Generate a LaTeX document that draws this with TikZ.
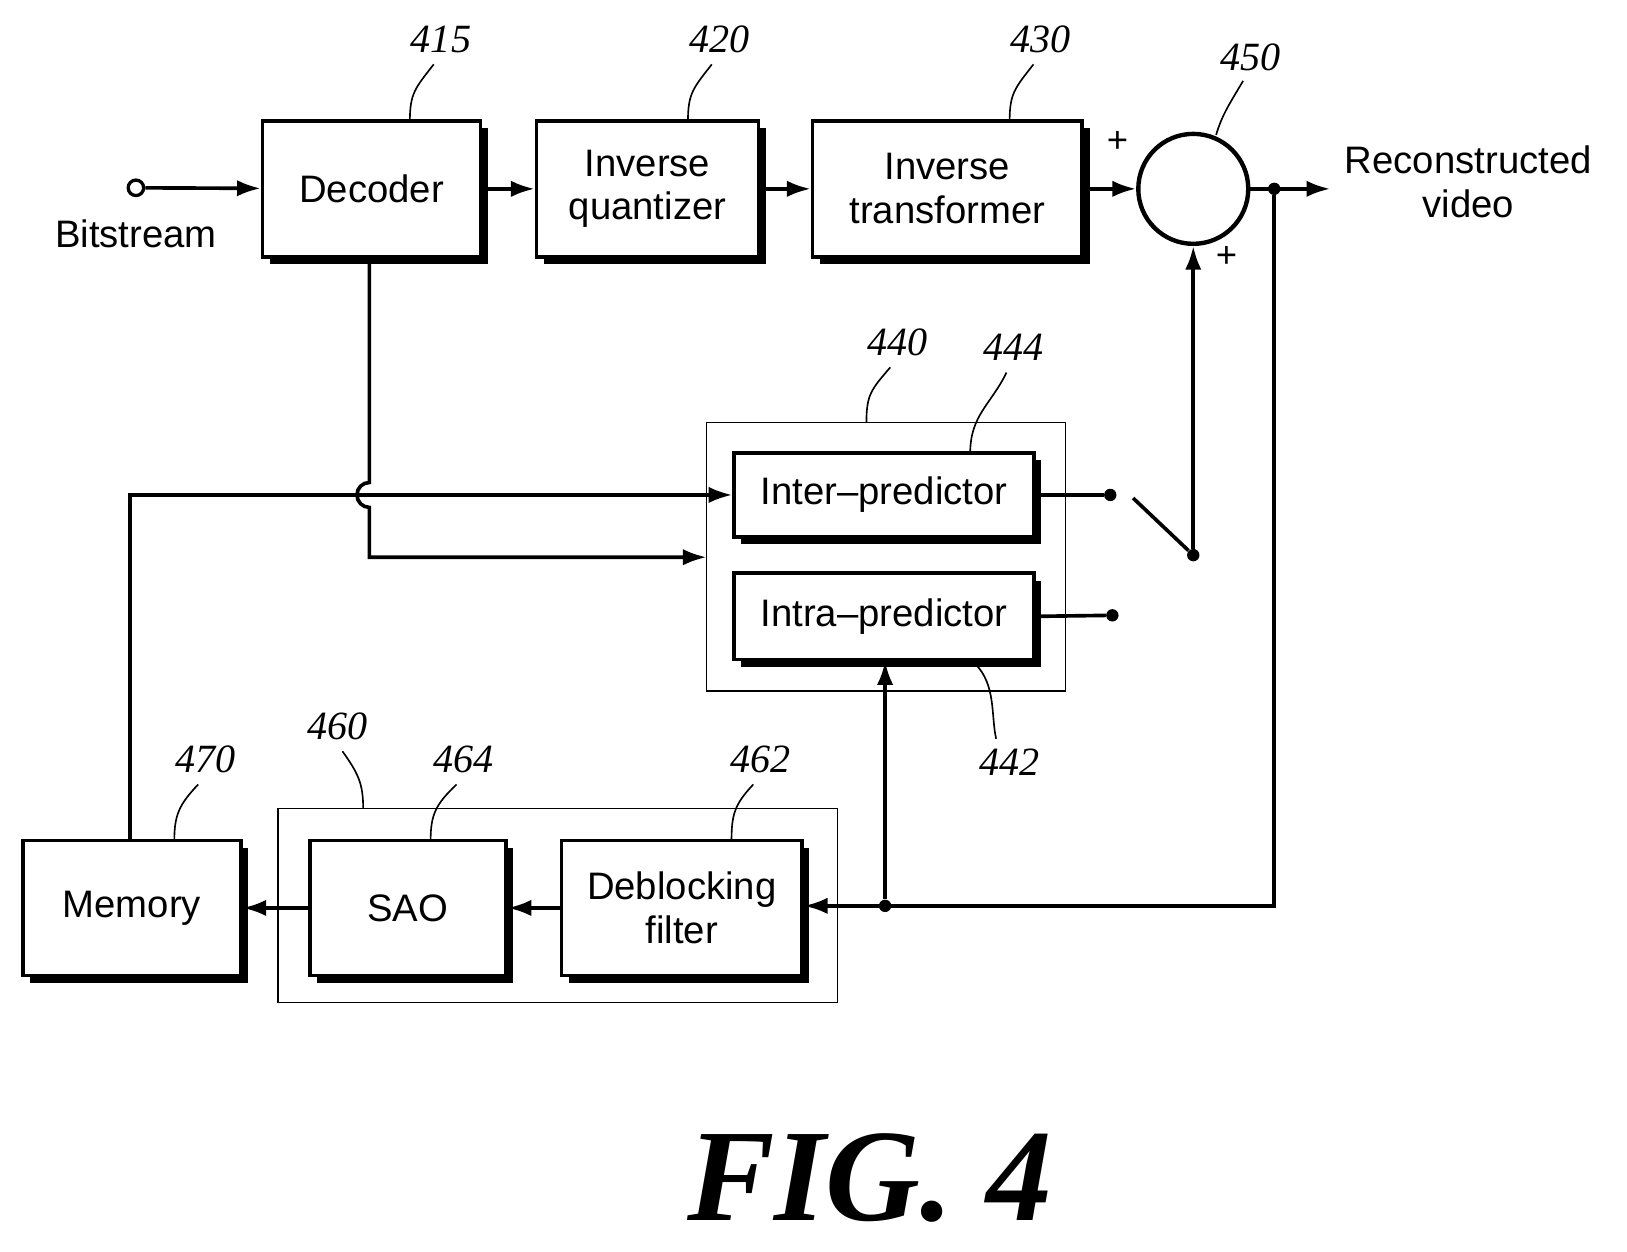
\documentclass[tikz,border=0pt]{standalone}
\usepackage{fontspec}
\setmainfont{Liberation Sans}
\newfontfamily\numfont{Liberation Serif}
\usetikzlibrary{shadows,arrows.meta}
\begin{document}
\begin{tikzpicture}[x=0.02cm,y=-0.02cm,
 blk/.style={draw,line width=2pt,fill=white,align=center,inner sep=0pt,
   font=\fontsize{21}{24}\selectfont,
   general shadow={fill=black,shadow xshift=4pt,shadow yshift=-4pt}},
 ln/.style={line width=2pt},
 ar/.style={ln,-{Latex[length=13pt,width=9pt]}},
 num/.style={font=\numfont\itshape\fontsize{22}{24}\selectfont},
 lead/.style={line width=0.9pt},
 dot/.style={circle,fill,inner sep=2.4pt}]
\useasboundingbox (0,0) rectangle (1568,1206);
% blocks
\node[blk,minimum width=4.2cm,minimum height=2.62cm] (dec) at (358,182) {Decoder};
\node[blk,minimum width=4.28cm,minimum height=2.62cm] (iq) at (624,182) {Inverse\\quantizer};
\node[blk,minimum width=5.2cm,minimum height=2.62cm] (it) at (913,182) {Inverse\\transformer};
\node[draw,circle,line width=2.4pt,minimum size=2.12cm] (sum) at (1150,182) {};
\node[draw,line width=0.8pt,minimum width=6.92cm,minimum height=5.18cm] (b440) at (854,536.5) {};
\node[blk,minimum width=5.78cm,minimum height=1.62cm] (inter) at (852,477) {Inter--predictor};
\node[blk,minimum width=5.78cm,minimum height=1.66cm] (intra) at (852,594) {Intra--predictor};
\node[draw,line width=0.8pt,minimum width=10.78cm,minimum height=3.74cm] (b460) at (537.5,872.5) {};
\node[blk,minimum width=4.2cm,minimum height=2.6cm] (mem) at (127,875) {Memory};
\node[blk,minimum width=3.78cm,minimum height=2.6cm] (sao) at (393,875) {SAO};
\node[blk,minimum width=4.64cm,minimum height=2.6cm] (dbf) at (657,875) {Deblocking\\filter};
% texts
\node[draw,circle,line width=1.8pt,inner sep=3pt,fill=white] (bs) at (131,181) {};
\node[font=\fontsize{21}{24}\selectfont] (bst) at (131,225) {Bitstream};
\node[font=\fontsize{21}{24}\selectfont,align=center] (rv) at (1415,175) {Reconstructed\\video};
\node[font=\fontsize{20}{22}\selectfont] (p1) at (1077,137) {+};
\node[font=\fontsize{20}{22}\selectfont] (p2) at (1182,248) {+};
\node[font=\bfseries\itshape\numfont\fontsize{72}{74}\selectfont] (fig) at (838,1135) {FIG. 4};
% top chain
\draw[ar] (bs) -- (dec);
\draw[ar] (dec) -- (iq);
\draw[ar] (iq) -- (it);
\draw[ar] (it) -- (sum);
\coordinate (o1) at (1228,182);
\coordinate (oe) at (1282,182);
\draw[ar] (sum) -- (oe);
\node[dot] (od) at (o1) {};
% decoder down with hop
\coordinate (d1) at (356,537);
\coordinate (d2) at (681,537);
\draw[ar] (dec.south -| d1) -- (356,465) arc (-90:90:-12 and 12) -- (d1) -- (d2);
% memory to inter
\coordinate (m1) at (125,477);
\draw[ar] (125,810) -- (m1) -- (inter.west);
% switch
\node[dot] (s1) at (1070,477) {};
\node[dot] (s2) at (1072,593) {};
\node[dot] (s3) at (1150,535) {};
\draw[ln] (inter.east) -- (s1);
\draw[ln] (intra.east) -- (s2);
\draw[ln] (1092,480) -- (s3);
\draw[ar] (s3) -- (sum.south);
% feedback
\coordinate (f1) at (1228,873);
\node[dot] (fd) at (853,873) {};
\draw[ar] (od) -- (f1) -- (dbf.east |- f1);
\draw[ar] (fd) -- (intra.south -| fd);
\draw[ar] (dbf) -- (sao);
\draw[ar] (sao) -- (mem);
% reference numbers
\node[num] at (425,38) {415}; \draw[lead] (418,62) .. controls (400,85) and (395,90) .. (395,117);
\node[num] at (693,38) {420}; \draw[lead] (686,62) .. controls (668,85) and (663,90) .. (663,117);
\node[num] at (1003,38) {430}; \draw[lead] (996,62) .. controls (978,85) and (973,90) .. (973,117);
\node[num] at (1205,55) {450}; \draw[lead] (1198,78) .. controls (1185,100) and (1178,110) .. (1172,130);
\node[num] at (865,330) {440}; \draw[lead] (858,354) .. controls (840,375) and (835,380) .. (835,407);
\node[num] at (977,335) {444}; \draw[lead] (970,359) .. controls (955,390) and (935,400) .. (935,437);
\node[num] at (973,735) {442}; \draw[lead] (940,640) .. controls (960,660) and (955,690) .. (960,712);
\node[num] at (325,700) {460}; \draw[lead] (330,724) .. controls (345,745) and (350,755) .. (350,779);
\node[num] at (447,732) {464}; \draw[lead] (440,756) .. controls (420,775) and (415,785) .. (415,810);
\node[num] at (733,732) {462}; \draw[lead] (726,756) .. controls (708,775) and (705,785) .. (705,810);
\node[num] at (198,732) {470}; \draw[lead] (191,756) .. controls (173,775) and (168,785) .. (168,810);
\end{tikzpicture}
\end{document}
